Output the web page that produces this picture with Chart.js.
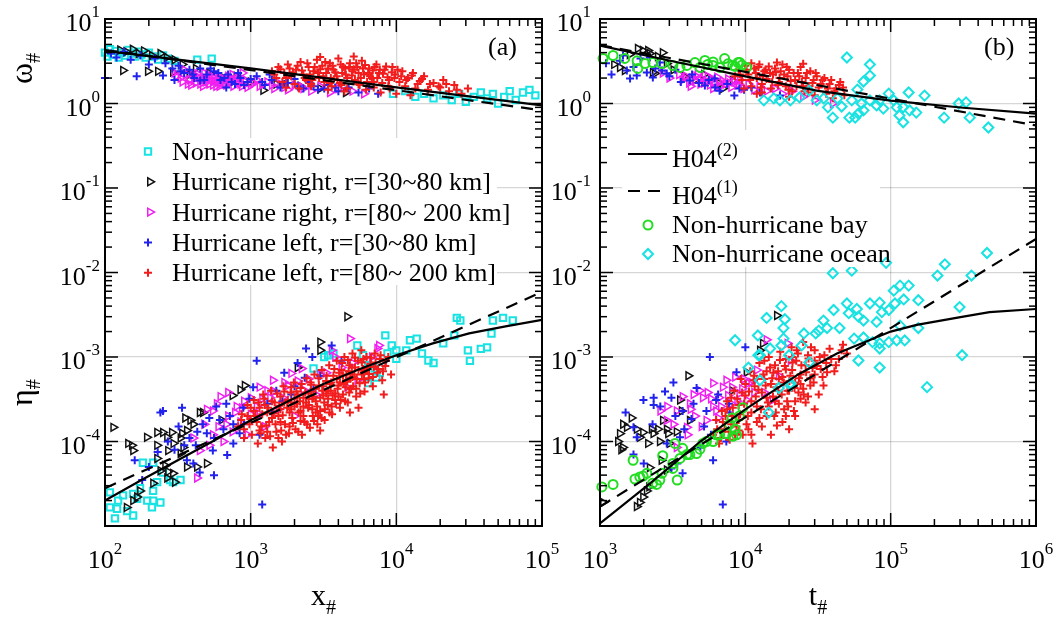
<!DOCTYPE html>
<html><head><meta charset="utf-8">
<script src="https://cdn.jsdelivr.net/npm/chart.js@4.4.0/dist/chart.umd.min.js"></script>
<style>
html,body{margin:0;padding:0;background:#fff;width:1057px;height:621px;overflow:hidden}
canvas{position:absolute;top:0}
#ca{left:0}#cb{left:548px}
</style></head><body>
<canvas id="ca" width="580" height="621"></canvas>
<canvas id="cb" width="509" height="621"></canvas>
<script>
// ---------------- tick labels (exponents of 10) ----------------
const xTickExpA = [2, 3, 4, 5];
const xTickExpB = [3, 4, 5, 6];
const yTickExp = [1, 0, -1, -2, -3, -4];

// ---------------- panel (a): x_# ----------------
const nonHurOmegaA = [[100,4.0],[104,3.6],[108,4.4],[113,3.8],[118,4.2],[124,3.5],[130,4.0],[137,3.7],[145,4.3],[152,3.9],[160,3.6],[168,4.1],[178,3.8],[190,3.5],[200,4.0],[215,3.6],[232,3.3],[250,3.7],[270,3.4],[300,3.2],[430,3.3],[540,3.4],[9500,1.3],[11500,1.4],[13500,1.2],[15500,1.3],[18000,1.15],[21000,1.25],[24000,1.1],[27000,1.3],[30000,1.05],[34000,1.2],[38000,1.35],[42000,1.15],[46000,1.3],[50000,1.0],[55000,1.2],[60000,1.4],[66000,1.1],[74000,1.35],[82000,1.45],[90000,1.25]];
const nonHurEtaA = [[117,1.23e-5],[121,1.6e-5],[108,1.66e-5],[123,2.0e-5],[142,1.5e-5],[156,1.33e-5],[166,2.1e-5],[174,2.8e-5],[195,2.0e-5],[214,2.0e-5],[214,2.6e-5],[182,5.6e-5],[214,5.6e-5],[228,3.3e-5],[250,4.3e-5],[280,3.5e-5],[293,3.3e-5],[330,3.5e-5],[240,1.9e-5],[210,1.66e-5],[156,2.4e-5],[133,2.3e-5],[108,2.5e-5],[2700,7.3e-4],[3200,1.0e-3],[3400,1.05e-3],[3700,1.1e-3],[5400,1.37e-3],[5900,1.05e-3],[6400,8.0e-4],[7100,7.3e-4],[7300,5.7e-4],[7700,6.5e-4],[8400,1.8e-3],[9300,1.37e-3],[8700,1.1e-3],[10000,9.5e-4],[11700,1.2e-3],[12400,1.58e-3],[13800,1.65e-3],[15000,1.1e-3],[16600,9.1e-4],[18000,8.5e-4],[21000,1.45e-3],[26000,2.9e-3],[27500,2.7e-3],[31000,1.2e-3],[32000,9.0e-4],[38000,1.25e-3],[42000,1.3e-3],[46000,2.7e-3],[54000,2.9e-3],[63000,2.7e-3],[45000,1.9e-3],[25000,1.8e-3],[6400,4.9e-4],[10000,1.2e-3]];
const hurR30OmegaA = [[133,2.46],[197,2.4],[231,2.4],[293,2.35],[127,4.3],[140,4.1],[155,4.4],[170,3.9],[185,4.2],[210,3.7],[240,3.9],[265,3.5],[300,3.3],[340,2.9],[380,2.2],[420,2.6],[520,2.3],[650,2.0],[800,2.1],[1000,1.8],[1220,1.43],[1500,1.7],[2200,1.6],[3000,1.5],[4500,1.35]];
const hurR30EtaA = [[114,1.47e-4],[144,9.5e-5],[156,7.8e-5],[153,9e-5],[194,1.12e-4],[228,1.28e-4],[250,1.28e-4],[267,1.12e-4],[288,1.28e-4],[295,9.5e-5],[330,1.1e-4],[338,1.25e-4],[365,1.35e-4],[385,1.78e-4],[404,1.6e-4],[355,1.9e-4],[447,2.2e-4],[470,2.2e-4],[228,6.3e-5],[240,4.5e-5],[259,5.2e-5],[271,4.4e-5],[267,3.7e-5],[293,4.2e-5],[302,3.3e-5],[166,2.2e-5],[156,2.0e-5],[141,1.66e-5],[174,2.6e-5],[214,3.2e-5],[330,7.2e-5],[365,5e-5],[428,5e-5],[500,5.5e-5],[271,7.8e-5],[228,9e-5],[345,8.5e-5],[3000,1.5e-3],[3000,1.2e-3],[2100,7.5e-4],[4600,3.0e-3],[910,4.6e-4],[850,4.1e-4],[750,3.5e-4],[630,1.8e-4]];
const hurR80OmegaA = [[300,2.3],[330,2.0],[350,2.5],[380,1.9],[400,2.2],[420,1.75],[440,2.05],[460,1.85],[480,2.3],[500,1.95],[520,1.7],[540,2.1],[560,1.85],[580,1.6],[600,2.0],[620,1.75],[650,1.9],[680,1.65],[700,2.1],[730,1.8],[760,1.6],[800,1.95],[850,1.7],[900,1.85],[950,1.55],[1050,1.75],[1150,1.6],[1300,1.8],[1450,1.5],[1600,1.7],[1800,1.45],[2000,1.65],[2300,1.5],[2600,1.4],[3000,1.6],[3500,1.35],[4000,1.5],[5000,1.4],[6000,1.3],[470,1.6],[610,1.6],[750,2.2],[390,1.65],[880,2.3],[310,2.1],[340,1.8],[360,2.2],[370,1.7],[410,1.95],[430,2.25],[450,1.7],[470,2.0],[490,1.8],[510,2.2],[530,1.9],[550,1.65],[570,2.0],[590,1.8],[610,2.1],[630,1.9],[660,1.7],[690,1.95],[710,1.75],[740,2.0],[770,1.85],[820,1.8],[870,1.6],[920,1.9],[1000,1.65],[1100,1.9],[1200,1.7],[1400,1.65],[1700,1.55],[2200,1.6]];
const hurR80EtaA = [[404,1.1e-4],[447,7.8e-5],[428,3.7e-5],[500,2.4e-4],[550,2.3e-4],[585,2.8e-4],[1150,4.4e-4],[1000,3.3e-4],[1660,3.3e-4],[2240,7.3e-4],[4800,1.65e-3],[7400,1.26e-3],[6800,1.0e-3],[7600,1.37e-3],[1420,5.3e-4],[5000,8.5e-4],[4600,4.4e-4],[5400,5.3e-4],[1150,2.1e-4],[1360,3.3e-4],[600,1.5e-4],[650,1.0e-4],[700,2.0e-4],[750,1.3e-4],[800,2.6e-4],[850,1.7e-4],[900,3.0e-4],[950,1.2e-4],[1100,2.6e-4],[1250,1.5e-4],[1300,4.0e-4],[1550,2.4e-4],[1800,4.6e-4],[2000,2.0e-4],[2500,5.5e-4],[2800,3.6e-4],[3300,6.5e-4],[3800,1.0e-3],[4200,7.5e-4],[3600,1.2e-3],[700,3.8e-4],[520,9e-5],[480,1.6e-4],[620,3.4e-4],[550,1.2e-4],[680,1.6e-4],[780,2.2e-4],[870,2.5e-4],[1000,2.1e-4],[1200,3.2e-4],[1450,3.9e-4],[1700,5.0e-4],[2100,5.2e-4],[2300,4.1e-4],[3000,6.2e-4],[1900,6.4e-4]];
const hurL30OmegaA = [[100,2.0],[165,2.1],[250,2.15],[450,1.87],[110,3.9],[120,3.5],[135,4.1],[150,3.3],[175,3.7],[200,2.9],[220,3.4],[260,3.0],[290,2.6],[320,2.8],[350,2.3],[380,2.5],[410,2.0],[450,2.6],[500,2.2],[560,2.4],[620,1.9],[700,2.2],[780,1.7],[850,2.0],[950,1.8],[1100,2.1],[1250,1.65],[1400,1.9],[1600,1.55],[1800,1.75],[2100,1.6],[2500,1.8],[2900,1.45],[3400,1.65],[4000,1.4],[4700,1.55],[5500,1.35],[6500,1.5],[7500,1.3],[300,1.9],[680,1.55],[330,2.4],[400,2.2],[480,1.9],[530,2.6],[600,2.3],[660,2.0],[740,1.8],[820,2.3],[900,1.65],[1000,1.95],[1200,1.8],[1350,2.2],[1700,1.7],[2000,1.95],[2300,1.5],[2700,1.6],[3200,1.5],[3800,1.55]];
const hurL30EtaA = [[240,2.2e-4],[338,2.5e-4],[365,6e-5],[404,5.5e-5],[447,4.3e-5],[550,7.8e-5],[690,6.9e-5],[760,9.5e-5],[840,1.25e-4],[500,1.25e-4],[615,1.8e-4],[1200,1.8e-5],[250,2.3e-4],[1100,9e-4],[2400,1.26e-3],[3600,1.37e-3],[2650,1.0e-3],[1700,6.5e-4],[2350,5.7e-4],[890,2.5e-4],[1040,4.4e-4],[160,6e-5],[200,5e-5],[230,7.5e-5],[270,1.0e-4],[300,8e-5],[320,1.5e-4],[380,1.1e-4],[420,9e-5],[470,1.6e-4],[560,1.1e-4],[650,1.4e-4],[720,2.0e-4],[900,1.6e-4],[980,3.2e-4],[1300,2.8e-4],[1500,4.0e-4],[1900,3.6e-4],[2100,8.5e-4],[3000,6.0e-4],[4200,9.0e-4],[180,3.5e-5],[560,4.0e-5],[350,9e-5],[430,1.3e-4],[520,1.9e-4],[580,2.6e-4],[680,2.8e-4],[760,1.6e-4],[1150,1.2e-4],[1400,2.2e-4],[1650,3.0e-4],[2000,4.5e-4],[2700,4.2e-4]];
const hurL80OmegaA = [[1400,2.4],[1500,2.0],[1550,2.7],[1650,1.8],[1700,2.3],[1800,2.9],[1900,2.1],[2000,1.7],[2050,2.5],[2200,3.1],[2300,2.2],[2400,1.9],[2500,2.7],[2600,1.6],[2700,2.4],[2850,3.3],[2950,2.0],[3100,2.8],[3200,1.8],[3300,2.3],[3500,3.0],[3600,1.6],[3700,2.5],[3900,2.1],[4000,3.4],[4100,1.75],[4300,2.7],[4500,2.2],[4600,1.5],[4800,3.0],[5000,2.4],[5200,1.9],[5400,2.7],[5600,1.65],[5800,3.2],[6000,2.2],[6300,1.8],[6500,2.6],[6800,2.0],[7000,1.55],[7300,2.9],[7600,2.3],[8000,1.75],[8300,2.5],[8700,2.05],[9000,1.5],[9400,2.7],[9800,2.2],[10500,1.8],[11000,2.4],[11500,1.6],[12000,2.0],[13000,2.3],[13500,1.5],[14500,1.85],[15500,2.1],[16500,1.45],[18000,1.75],[19500,1.6],[21000,1.9],[23000,1.4],[25000,1.65],[28000,1.3],[31000,1.5],[3400,1.45],[4400,1.4],[2150,1.5],[1750,1.55],[6200,1.45],[7800,1.35],[10000,1.3],[12500,1.25],[5100,3.6],[3000,3.55],[1450,2.2],[1600,2.55],[1750,2.0],[1850,2.6],[1950,2.35],[2100,2.8],[2250,2.45],[2350,2.0],[2450,3.0],[2550,2.2],[2650,1.9],[2750,2.7],[2900,2.3],[3000,2.55],[3150,2.1],[3250,3.1],[3400,2.6],[3550,2.0],[3650,2.8],[3800,2.35],[3950,1.9],[4150,2.9],[4250,2.3],[4450,2.6],[4600,2.0],[4750,2.7],[4950,2.15],[5100,2.55],[5300,3.0],[5500,2.3],[5700,2.0],[5900,2.6],[6100,2.85],[6400,2.3],[6600,2.1],[6900,2.45],[7100,2.7],[7400,2.0],[7700,2.5],[8100,2.25],[8500,2.75],[8900,1.9],[9300,2.35],[9700,2.0],[10200,2.5],[10800,2.1],[11700,1.9],[12800,2.15],[14000,1.7],[15000,1.95],[17000,1.7],[20000,1.55],[22000,1.7],[26000,1.45],[3500,1.75],[4200,1.65],[5500,1.7],[7000,1.8],[8800,1.6],[2600,1.7]];
const hurL80EtaA = [[820,1.5e-4],[870,2.1e-4],[900,1.1e-4],[950,2.7e-4],[980,1.6e-4],[1020,1.2e-4],[1050,3.1e-4],[1080,2.0e-4],[1120,9.5e-5],[1150,2.5e-4],[1180,1.5e-4],[1220,3.6e-4],[1260,1.1e-4],[1300,2.2e-4],[1340,1.7e-4],[1380,4.0e-4],[1420,8.5e-5],[1460,2.9e-4],[1500,1.3e-4],[1550,2.0e-4],[1600,3.4e-4],[1640,1.0e-4],[1680,4.5e-4],[1720,1.6e-4],[1780,2.5e-4],[1830,1.25e-4],[1880,3.8e-4],[1930,1.9e-4],[1980,5.0e-4],[2030,1.4e-4],[2080,2.8e-4],[2130,2.2e-4],[2200,4.3e-4],[2250,1.2e-4],[2300,3.3e-4],[2350,1.7e-4],[2420,5.6e-4],[2480,2.5e-4],[2550,1.45e-4],[2600,3.9e-4],[2670,2.0e-4],[2740,6.2e-4],[2800,3.0e-4],[2870,1.6e-4],[2940,4.6e-4],[3000,2.3e-4],[3080,7.0e-4],[3150,3.5e-4],[3220,1.8e-4],[3300,5.2e-4],[3380,2.7e-4],[3460,8.0e-4],[3540,4.0e-4],[3620,2.1e-4],[3700,6.0e-4],[3800,3.1e-4],[3900,9.0e-4],[4000,4.6e-4],[4100,2.5e-4],[4200,7.0e-4],[4300,3.6e-4],[4400,1.0e-3],[4520,5.3e-4],[4640,2.9e-4],[4760,8.0e-4],[4880,4.2e-4],[5000,1.1e-3],[5150,6.2e-4],[5300,3.4e-4],[5450,9.0e-4],[5600,4.9e-4],[5750,1.2e-3],[5900,7.2e-4],[6050,3.9e-4],[6250,1.0e-3],[6450,5.6e-4],[6650,8.3e-4],[6900,4.5e-4],[7100,1.1e-3],[7400,6.5e-4],[7700,9.5e-4],[8000,5.3e-4],[8400,7.8e-4],[8800,1.0e-3],[9200,6.2e-4],[1250,2.7e-4],[1400,1.9e-4],[1700,2.9e-4],[1900,2.4e-4],[2100,3.6e-4],[2400,2.9e-4],[2700,3.4e-4],[3100,4.0e-4],[3500,4.8e-4],[3900,5.5e-4],[4300,6.1e-4],[4700,6.8e-4],[5200,7.5e-4],[5800,8.6e-4],[1550,1.1e-4],[1850,1.5e-4],[2200,1.75e-4],[2650,2.4e-4],[3200,2.9e-4],[3800,3.7e-4],[4500,4.4e-4],[1000,1.85e-4],[1150,1.35e-4],[2000,3.2e-4],[2600,4.7e-4],[3300,3.7e-4],[4100,5.0e-4],[5000,5.8e-4],[6000,6.6e-4],[7000,7.6e-4],[2300,2.6e-4],[2900,2.0e-4],[3600,2.6e-4],[1600,2.4e-4],[1300,1.3e-4],[2500,3.7e-4],[3000,1.35e-4],[5500,2.5e-4],[4800,2.2e-4],[8200,3.6e-4],[1050,2.3e-4],[1100,1.7e-4],[1130,2.9e-4],[1170,1.25e-4],[1200,2.1e-4],[1240,3.2e-4],[1280,1.55e-4],[1320,2.5e-4],[1360,1.15e-4],[1400,3.0e-4],[1440,2.15e-4],[1480,1.6e-4],[1520,3.7e-4],[1570,2.65e-4],[1620,1.35e-4],[1660,2.05e-4],[1700,3.9e-4],[1750,1.2e-4],[1800,3.1e-4],[1850,2.2e-4],[1900,4.4e-4],[1950,1.65e-4],[2000,2.6e-4],[2060,3.9e-4],[2120,1.3e-4],[2180,3.0e-4],[2240,4.8e-4],[2300,2.0e-4],[2370,3.8e-4],[2440,1.6e-4],[2510,2.7e-4],[2580,5.0e-4],[2650,3.2e-4],[2720,1.75e-4],[2790,4.2e-4],[2860,2.6e-4],[2930,5.6e-4],[3000,3.3e-4],[3070,1.9e-4],[3150,4.5e-4],[3230,2.4e-4],[3320,6.0e-4],[3400,3.2e-4],[3480,2.2e-4],[3570,5.0e-4],[3660,3.5e-4],[3750,7.2e-4],[3850,2.8e-4],[3950,4.2e-4],[4050,6.5e-4],[4150,3.1e-4],[4250,8.5e-4],[4350,4.8e-4],[4450,3.0e-4],[4550,6.2e-4],[4650,9.2e-4],[4750,3.8e-4],[4850,5.6e-4],[4950,7.5e-4],[5050,4.5e-4],[5200,9.8e-4],[5350,5.5e-4],[5500,7.0e-4],[5650,3.7e-4],[5800,6.2e-4],[5950,9.5e-4],[6100,5.0e-4],[6300,7.5e-4],[6500,6.3e-4],[6700,9.8e-4],[6900,5.8e-4],[7200,8.6e-4],[7500,7.2e-4],[7800,1.05e-3],[8100,6.8e-4],[8500,9.0e-4],[900,1.4e-4],[950,2.0e-4],[1000,2.5e-4],[860,1.8e-4],[1600,1.7e-4],[2200,2.3e-4],[2800,2.2e-4],[3400,4.0e-4],[4000,3.4e-4],[4600,5.1e-4],[5300,4.2e-4],[6000,5.5e-4],[2500,3.2e-4],[1900,2.9e-4]];
const h04v2OmegaA = [[100,4.2],[1000,2.6],[10000,1.55],[100000,0.95]];
const h04v1OmegaA = [[100,4.3],[100000,0.83]];
const h04v2EtaA = [[100,2.0e-5],[178,3.5e-5],[316,6.0e-5],[562,1.03e-4],[1000,1.78e-4],[1780,2.95e-4],[3160,4.8e-4],[5620,7.2e-4],[10000,1.05e-3],[17800,1.45e-3],[31600,1.9e-3],[56200,2.3e-3],[100000,2.75e-3]];
const h04v1EtaA = [[100,2.8e-5],[100000,5.9e-3]];

// ---------------- panel (b): t_# ----------------
const bayOmegaB = [[1050,3.41],[1230,3.7],[1480,3.41],[1800,3.2],[2040,2.97],[2310,3.05],[2670,2.97],[3170,2.82],[3550,2.67],[3960,2.82],[4500,3.05],[4870,2.67],[5980,2.82],[6670,2.67],[8190,2.82],[9160,3.05],[10200,2.67],[1820,2.6],[5270,3.23],[7200,3.4],[8900,3.05],[6000,3.1],[7600,2.95],[8500,2.75],[9500,2.85],[5500,2.9]];
const bayEtaB = [[1030,2.9e-5],[1230,3.1e-5],[1690,6e-5],[1740,3.6e-5],[1980,3.9e-5],[2100,4.2e-5],[2300,3.2e-5],[2450,3.1e-5],[2670,4.2e-5],[3170,4.8e-5],[3170,5.5e-5],[3280,9.5e-5],[3550,6.3e-5],[3960,7e-5],[4150,7e-5],[4620,7.2e-5],[4870,8.1e-5],[5400,1.0e-4],[6000,1.0e-4],[6650,1.2e-4],[7400,1.24e-4],[8200,1.15e-4],[8500,1.4e-4],[3400,3.5e-5],[2580,3.5e-5],[1880,3.8e-5],[8100,1.9e-4],[9100,2.0e-4],[8700,1.2e-4],[6300,1.2e-4],[3700,8.3e-5],[2700,6.8e-5],[5100,9.5e-5],[7800,1.6e-4],[9600,2.5e-4]];
const oceanOmegaB = [[50000,3.5],[72000,2.9],[72000,2.14],[65000,1.82],[59000,1.46],[52000,0.68],[40000,0.68],[57000,0.68],[60000,0.76],[65000,0.83],[37000,0.9],[46000,0.92],[43000,1.15],[54000,1.09],[63000,1.0],[72000,1.09],[80000,0.95],[89000,0.87],[97000,1.31],[105000,1.09],[110000,0.9],[115000,0.72],[122000,0.6],[133000,1.35],[135000,0.83],[150000,0.78],[171000,1.24],[233000,0.68],[294000,1.0],[330000,1.03],[350000,0.68],[470000,0.52],[27500,1.42],[23600,1.18],[20400,1.09],[17300,1.09],[15700,1.15],[13400,1.09],[31000,1.09],[34600,1.15],[84000,1.09],[122000,0.9]];
const oceanEtaB = [[40000,9.8e-3],[54000,1.05e-2],[17700,4.0e-3],[14000,2.9e-3],[18700,2.8e-3],[40500,3.6e-3],[50000,4.3e-3],[51500,3.3e-3],[58500,3.7e-3],[60000,3.0e-3],[72000,4.3e-3],[84000,4.4e-3],[87000,3.4e-3],[97000,3.6e-3],[107000,4.3e-3],[123000,4.8e-3],[105000,6.1e-3],[116000,7e-3],[133000,7e-3],[155000,4.7e-3],[236000,1.25e-2],[210000,9.2e-3],[460000,1.7e-2],[360000,9.2e-3],[298000,3.9e-3],[80000,2.6e-3],[65000,2.7e-3],[34500,2.7e-3],[36500,2.2e-3],[32000,2.05e-3],[30500,1.9e-3],[25300,1.9e-3],[24400,1.37e-3],[44500,2.2e-3],[56000,1.65e-3],[65000,1.7e-3],[75000,1.5e-3],[84000,1.45e-3],[97000,1.5e-3],[110000,1.57e-3],[125000,1.57e-3],[116000,2.35e-3],[155000,2.2e-3],[84000,1.26e-3],[60000,9.1e-4],[84000,7.5e-4],[310000,1.05e-3],[178000,4.4e-4],[14500,2.2e-4],[17000,4.3e-4],[20500,4.9e-4],[27500,8.6e-4],[18300,2.2e-3],[18300,1.65e-3],[17700,1.37e-3],[14800,1.26e-3],[12300,1.05e-3],[20000,1.05e-3],[93000,1.3e-2],[8500,1.58e-3],[12200,1.8e-3],[12600,1.05e-3],[10500,7.5e-4],[12600,5.3e-4],[20500,4.6e-4]];
const hurR30OmegaB = [[1370,2.67],[1480,2.46],[1820,4.47],[1970,4.24],[2140,4.24],[2200,3.9],[2310,2.33],[2390,2.27],[2880,2.97],[6670,1.72],[7000,1.5],[8190,1.87],[1600,3.8],[2500,3.6],[3200,2.5],[3800,2.1],[4500,1.9],[5200,2.2],[1250,2.9],[2700,4.0]];
const hurR30EtaB = [[1330,1.0e-4],[1440,8.5e-5],[1370,1.24e-4],[1530,1.47e-4],[1650,1.9e-4],[1440,1.6e-4],[1880,1.12e-4],[1980,1.28e-4],[2140,9.5e-5],[2270,1.4e-4],[2330,1.24e-4],[2510,1.4e-4],[2710,1.78e-4],[2940,1.24e-4],[3020,9.5e-5],[3550,3.1e-4],[4050,6e-4],[4150,1.78e-4],[3650,2.3e-4],[3370,1.3e-4],[2200,4.9e-5],[2650,6e-5],[13200,1.45e-3],[12600,1.2e-3],[10200,6.6e-4],[8100,4e-4],[16500,3.1e-3],[1400,8e-5],[1790,1.7e-5],[1880,1.9e-5],[1980,2.2e-5],[2100,2.6e-5],[2180,2.9e-5],[1050,1.9e-5],[2880,4.6e-5],[2580,1.0e-4],[2880,1.4e-4],[1790,1.4e-4]];
const hurR80OmegaB = [[3500,2.2],[3700,1.9],[3900,2.1],[4100,1.75],[4300,2.0],[4500,1.85],[4700,2.25],[4900,1.7],[5100,1.95],[5300,1.8],[5500,2.1],[5700,1.65],[5900,1.9],[6100,1.75],[6400,2.05],[6700,1.6],[7000,1.85],[7300,1.7],[7600,1.95],[8000,1.55],[8400,1.8],[8800,1.65],[9200,1.9],[9700,1.5],[10500,1.7],[11500,1.45],[12500,1.6],[14000,1.4],[16000,1.5],[18000,1.3],[21000,1.4],[25000,1.2],[30000,1.1],[40000,1.0],[3000,2.0],[2700,2.3],[6000,1.5],[4200,1.6],[3800,2.0],[4600,2.1],[5200,1.75],[5800,2.0],[6600,1.8],[7800,1.75],[9000,1.7]];
const hurR80EtaB = [[7400,5.3e-4],[8100,4.4e-4],[4870,4e-4],[5100,3.3e-4],[6000,4.9e-4],[6300,2.3e-4],[6600,3.3e-4],[3370,2.3e-4],[4150,2.8e-4],[9100,3.7e-4],[10200,3.1e-4],[10500,4.9e-4],[15400,3.1e-4],[20500,9.1e-4],[14000,1.6e-3],[19500,1.45e-3],[3370,8.5e-5],[2880,1.78e-4],[3960,1.47e-4],[5400,1.78e-4],[2600,2.3e-4],[4000,1.2e-4],[4500,2.0e-4],[5000,1.5e-4],[5500,3.8e-4],[6000,2.6e-4],[6500,1.9e-4],[7000,4.4e-4],[8000,2.8e-4],[8500,5.8e-4],[9500,4.2e-4],[11000,5.0e-4],[12000,7.0e-4],[13500,3.8e-4],[17000,6.0e-4],[3200,1.6e-4],[2900,2.6e-4],[3700,3.4e-4],[4400,3.6e-4],[5800,3.2e-4],[6800,2.6e-4],[7600,3.5e-4],[8800,3.0e-4],[9800,5.5e-4],[11500,3.8e-4],[4200,2.4e-4]];
const hurL30OmegaB = [[1370,3.2],[1530,2.46],[1610,1.98],[1790,2.14],[2100,2.33],[2310,2.03],[2670,2.46],[2880,2.27],[2580,3.05],[2200,3.5],[1440,3.7],[4150,1.87],[5270,1.63],[6650,1.42],[9100,1.5],[6150,1.98],[8400,1.24],[12600,1.35],[17300,1.24],[1100,3.0],[1200,2.2],[1700,2.7],[1900,3.4],[2400,2.6],[3000,2.1],[3300,2.5],[3600,1.8],[4300,2.2],[4800,1.75],[5600,1.9],[6200,1.55],[7500,1.7],[9800,1.45],[11000,1.55]];
const hurL30EtaB = [[10000,1.3e-3],[5700,1.0e-3],[8700,6.6e-4],[1990,3.1e-4],[2340,3.3e-4],[2340,2.7e-4],[3100,3.3e-4],[3700,2.3e-4],[4260,1.85e-4],[5400,2.3e-4],[6300,3.1e-4],[7800,2.2e-4],[3550,1.12e-4],[2880,9.5e-5],[3400,5.5e-5],[3700,4.2e-5],[3100,4.8e-5],[4900,8.5e-5],[6000,6e-5],[7400,1.0e-4],[1700,1.47e-4],[1790,1.12e-4],[4620,4.3e-4],[7000,1.8e-5],[1500,2.2e-4],[1700,7e-5],[2000,5.5e-5],[2300,1.6e-4],[2600,2.6e-4],[3300,2.0e-4],[3800,1.4e-4],[4400,2.8e-4],[5200,1.5e-4],[5800,1.2e-4],[6500,3.6e-4],[7700,2.8e-4],[2800,3.9e-4],[3200,5.0e-4]];
const hurL80OmegaB = [[9000,2.5],[9500,1.9],[10000,2.8],[10500,2.2],[11000,1.6],[11500,2.6],[12000,2.0],[12500,2.9],[13000,1.7],[13500,2.4],[14000,1.95],[14500,2.75],[15000,1.5],[15500,2.2],[16000,2.6],[17000,1.8],[17500,2.4],[18000,2.9],[19000,1.6],[19500,2.1],[20000,2.5],[21000,1.4],[22000,1.9],[23000,2.3],[24000,2.7],[25000,1.6],[26000,2.0],[27000,1.35],[28000,2.4],[29000,1.75],[30000,1.25],[31000,2.1],[32000,1.55],[34000,1.9],[36000,1.3],[38000,1.7],[40000,1.15],[42000,1.5],[45000,1.8],[48000,1.25],[11000,3.0],[16500,3.05],[25000,2.95],[13000,1.35],[20000,1.2],[8500,2.1],[9800,1.5],[12000,1.3],[47000,1.55],[9200,2.2],[10200,2.5],[10800,1.9],[11800,2.3],[12300,2.7],[13200,2.1],[13800,2.5],[14800,2.3],[15300,1.8],[16200,2.35],[17200,2.0],[18500,2.2],[19300,2.7],[20500,1.85],[21500,2.3],[22500,1.6],[23500,2.1],[24500,1.8],[26500,2.3],[27500,1.6],[29500,1.9],[30500,2.3],[33000,1.7],[35000,2.0],[37000,1.5],[39000,1.9],[41000,1.4],[44000,1.65],[12800,1.55],[16800,1.65],[19800,1.45],[25500,1.4]];
const hurL80EtaB = [[6000,1.2e-4],[6300,1.8e-4],[6600,9.5e-5],[6900,2.3e-4],[7200,1.4e-4],[7500,3.0e-4],[7800,1.05e-4],[8100,2.0e-4],[8400,4.0e-4],[8700,1.5e-4],[9000,2.7e-4],[9300,5.5e-4],[9600,1.2e-4],[10000,3.5e-4],[10400,2.0e-4],[10800,6.8e-4],[11200,9.5e-5],[11600,4.5e-4],[12000,2.6e-4],[12500,8.5e-4],[13000,1.5e-4],[13500,5.5e-4],[14000,3.3e-4],[14500,1.0e-3],[15000,1.2e-4],[15600,6.5e-4],[16200,2.2e-4],[16800,4.0e-4],[17400,1.15e-3],[18000,1.7e-4],[18700,7.8e-4],[19400,3.0e-4],[20100,5.2e-4],[20800,1.3e-3],[21600,2.3e-4],[22400,9.0e-4],[23200,3.8e-4],[24000,6.2e-4],[25000,1.5e-3],[26000,2.9e-4],[27000,1.05e-3],[28000,4.6e-4],[29000,7.4e-4],[30000,1.2e-3],[32000,3.6e-4],[34000,5.8e-4],[36000,8.5e-4],[38000,1.25e-3],[41000,6.8e-4],[44000,9.5e-4],[47000,1.4e-3],[50000,1.1e-3],[7000,1.7e-4],[8000,3.3e-4],[9000,1.8e-4],[10000,4.8e-4],[11000,3.0e-4],[12000,5.5e-4],[13000,3.8e-4],[14000,6.8e-4],[15000,4.8e-4],[16000,8.0e-4],[17000,2.8e-4],[18000,5.8e-4],[19000,9.5e-4],[20000,4.0e-4],[21000,7.0e-4],[22000,5.0e-4],[23000,1.1e-3],[24000,3.2e-4],[26000,8.0e-4],[28000,5.6e-4],[30000,9.0e-4],[33000,7.2e-4],[35000,1.05e-3],[8500,1.2e-4],[10500,1.4e-4],[12500,1.9e-4],[14500,2.6e-4],[16500,1.55e-4],[19000,2.0e-4],[22000,3.0e-4],[25000,4.2e-4],[7500,2.4e-4],[9500,3.8e-4],[11500,6.0e-4],[13500,9.0e-4],[15500,3.4e-4],[20000,1.4e-4],[30000,2.4e-4],[6400,1.4e-4],[6800,1.1e-4],[7300,2.0e-4],[7700,1.3e-4],[8200,2.5e-4],[8800,3.2e-4],[9200,2.1e-4],[9800,2.8e-4],[10200,1.6e-4],[10600,3.9e-4],[11000,2.2e-4],[11400,5.3e-4],[11800,3.4e-4],[12300,4.1e-4],[12800,2.4e-4],[13300,6.2e-4],[13800,4.6e-4],[14300,2.9e-4],[14800,7.5e-4],[15300,5.6e-4],[15800,2.0e-4],[16300,4.4e-4],[16800,6.8e-4],[17300,9.2e-4],[17800,3.6e-4],[18400,5.0e-4],[19000,7.1e-4],[19700,2.6e-4],[20400,6.0e-4],[21100,8.6e-4],[21800,4.3e-4],[22600,1.2e-3],[23400,5.6e-4],[24300,8.0e-4],[25200,3.6e-4],[26200,6.6e-4],[27200,9.6e-4],[28300,1.3e-3],[29500,5.0e-4],[31000,7.8e-4],[32500,1.0e-3],[34500,4.6e-4],[36500,6.6e-4],[39000,9.5e-4],[42000,8.0e-4],[46000,1.2e-3],[9000,1.35e-4],[12000,1.7e-4],[14000,2.0e-4],[18500,2.4e-4],[22000,2.0e-4],[27000,3.4e-4],[8000,1.6e-4],[11000,1.2e-4],[16000,3.0e-4],[19500,4.0e-4],[24000,4.8e-4],[30000,6.2e-4],[21000,1.0e-3],[17000,5.5e-4]];
const h04v2OmegaB = [[1000,4.85],[3160,3.16],[10000,2.09],[31600,1.41],[100000,1.08],[316000,0.89],[1000000,0.76]];
const h04v1OmegaB = [[1000,4.9],[1000000,0.55]];
const h04v2EtaB = [[1000,1.07e-5],[2190,3.16e-5],[4900,1.0e-4],[10000,2.4e-4],[23400,6.3e-4],[42700,1.1e-3],[100000,2.0e-3],[151000,2.4e-3],[316000,3.0e-3],[479000,3.4e-3],[1000000,3.7e-3]];
const h04v1EtaB = [[1000,1.7e-5],[1000000,2.5e-2]];

// ---------------- styles ----------------
const SERIF = '"Liberation Serif","Times New Roman",Times,serif';
const CYAN = '#18e2e2', BLACK = '#111111', MAG = '#f020f0', BLUE = '#2222ee', RED = '#f21c1c', GREEN = '#22dd22';
const ST = {
  sq:   {pointStyle:'rect', radius:4.5, rotation:0, borderWidth:2, color:CYAN},
  triK: {pointStyle:'triangle', radius:4.5, rotation:90, borderWidth:1.5, color:BLACK},
  triM: {pointStyle:'triangle', radius:4.5, rotation:90, borderWidth:1.5, color:MAG},
  crB:  {pointStyle:'cross', radius:4, rotation:0, borderWidth:2, color:BLUE},
  crR:  {pointStyle:'cross', radius:4, rotation:0, borderWidth:2, color:RED},
  ciG:  {pointStyle:'circle', radius:4.5, rotation:0, borderWidth:2, color:GREEN},
  diC:  {pointStyle:'rectRot', radius:5, rotation:0, borderWidth:2, color:CYAN}
};
const toXY = a => a.map(p => ({x:p[0], y:p[1]}));
function scat(label, pts, st, order) {
  return {label, data: toXY(pts), showLine:false, order, clip:false,
    pointStyle: st.pointStyle, pointRotation: st.rotation, pointRadius: st.radius,
    pointBorderWidth: st.borderWidth, pointBorderColor: st.color, pointBackgroundColor:'rgba(0,0,0,0)'};
}
function curve(label, pts, dash) {
  return {label, data: toXY(pts), showLine:true, order:0, borderColor:'#000', borderWidth:2.2,
    borderDash: dash, pointRadius:0, fill:false, tension:0};
}

// ---------------- drawing helpers ----------------
function font(sz){ return sz + 'px ' + SERIF; }
function tw(ctx, s, sz){ ctx.font = font(sz); return ctx.measureText(s).width; }
function txt(ctx, s, x, y, sz, align){ ctx.font = font(sz); ctx.textAlign = align || 'left'; ctx.textBaseline = 'alphabetic'; ctx.fillStyle = '#000'; ctx.fillText(s, x, y); }
function rich(ctx, parts, x, y){
  let cx = x;
  parts.forEach(p => { txt(ctx, p[0], cx, y + p[2], p[1]); cx += tw(ctx, p[0], p[1]); });
}
function richW(ctx, parts){ return parts.reduce((s,p)=>s+tw(ctx,p[0],p[1]),0); }
function powLabel(ctx, e, x, yb, ye, align){
  const wb = tw(ctx,'10',26), we = tw(ctx,String(e),17);
  const x0 = align === 'right' ? x - wb - we : x - (wb + we)/2;
  txt(ctx,'10',x0,yb,26); txt(ctx,String(e),x0+wb,ye,17);
}
function seg(ctx,x1,y1,x2,y2){ ctx.beginPath(); ctx.moveTo(x1,y1); ctx.lineTo(x2,y2); ctx.stroke(); }
function logTicks(scale){
  const out = [];
  const lo = Math.round(Math.log10(scale.min)), hi = Math.round(Math.log10(scale.max));
  for (let n = lo; n <= hi; n++) for (let k = 1; k <= 9; k++) {
    const v = k * Math.pow(10, n);
    if (v >= scale.min*0.999 && v <= scale.max*1.001) out.push([v, k === 1]);
  }
  return out;
}
function marker(ctx, st, x, y){
  ctx.save(); ctx.strokeStyle = st.color; ctx.fillStyle = 'rgba(0,0,0,0)'; ctx.lineWidth = st.borderWidth; ctx.setLineDash([]);
  Chart.helpers.drawPoint(ctx, {pointStyle:st.pointStyle, radius:st.radius, rotation:st.rotation, borderWidth:st.borderWidth}, x, y);
  ctx.restore();
}
function decoPlugin(opt){
  return { id:'deco',
    afterDatasetsDraw(chart){
      const ctx = chart.ctx, a = chart.chartArea, xs = chart.scales.x, ys = chart.scales.y;
      ctx.save();
      const b = opt.box; ctx.fillStyle = '#fff'; ctx.fillRect(b[0], b[1], b[2]-b[0], b[3]-b[1]);
      opt.legend(ctx);
      ctx.strokeStyle = '#000'; ctx.lineWidth = 1.5; ctx.setLineDash([]);
      logTicks(xs).forEach(([v,maj]) => { const p = xs.getPixelForValue(v), L = maj ? 13 : 7;
        seg(ctx,p,a.bottom,p,a.bottom-L); seg(ctx,p,a.top,p,a.top+L); });
      logTicks(ys).forEach(([v,maj]) => { const p = ys.getPixelForValue(v), L = maj ? 13 : 7;
        seg(ctx,a.left,p,a.left+L,p); seg(ctx,a.right,p,a.right-L,p); });
      ctx.lineWidth = 2; ctx.strokeRect(a.left, a.top, a.right-a.left, a.bottom-a.top);
      opt.xExp.forEach(e => powLabel(ctx, e, xs.getPixelForValue(Math.pow(10,e)), 568, 554, 'center'));
      yTickExp.forEach(e => { const p = ys.getPixelForValue(Math.pow(10,e)); powLabel(ctx, e, opt.yRight, p+12, p-2, 'right'); });
      opt.titles(ctx, a);
      ctx.restore();
    }
  };
}
function rotRich(ctx, parts, x, y){ ctx.save(); ctx.translate(x,y); ctx.rotate(-Math.PI/2); rich(ctx, parts, 0, 0); ctx.restore(); }
function scalesFor(xmin, xmax){
  const dec = s => { const t=[]; for (let n=Math.round(Math.log10(s.min)); n<=Math.round(Math.log10(s.max)); n++) t.push({value:Math.pow(10,n)}); s.ticks = t; };
  const g = {color:'rgba(0,0,0,0.16)', lineWidth:1.3, drawTicks:false};
  return {
    x:{type:'logarithmic', min:xmin, max:xmax, ticks:{display:false}, grid:g, border:{display:false}, afterBuildTicks:dec},
    y:{type:'logarithmic', min:1e-5, max:10, ticks:{display:false}, grid:g, border:{display:false}, afterBuildTicks:dec}
  };
}
Chart.defaults.font.family = SERIF;

// ---------------- chart (a) ----------------
const legA = ['Non-hurricane','Hurricane right, r=[30~80 km]','Hurricane right, r=[80~ 200 km]','Hurricane left, r=[30~80 km]','Hurricane left, r=[80~ 200 km]'];
new Chart(document.getElementById('ca'), {
  type:'scatter',
  data:{datasets:[
    curve('H04(2) ω', h04v2OmegaA, []), curve('H04(1) ω', h04v1OmegaA, [12,8]),
    curve('H04(2) η', h04v2EtaA, []), curve('H04(1) η', h04v1EtaA, [12,8]),
    scat(legA[4], hurL80OmegaA.concat(hurL80EtaA), ST.crR, 1),
    scat(legA[3], hurL30OmegaA.concat(hurL30EtaA), ST.crB, 2),
    scat(legA[2], hurR80OmegaA.concat(hurR80EtaA), ST.triM, 3),
    scat(legA[1], hurR30OmegaA.concat(hurR30EtaA), ST.triK, 4),
    scat(legA[0], nonHurOmegaA.concat(nonHurEtaA), ST.sq, 5)
  ]},
  options:{responsive:false, animation:false, events:[],
    layout:{padding:{left:105, right:38, top:19, bottom:95}},
    scales: scalesFor(100, 1e5),
    plugins:{legend:{display:false}, tooltip:{enabled:false}}},
  plugins:[decoPlugin({
    box:[118,138,497,285], xExp:xTickExpA, yRight:100,
    legend(ctx){
      const sts = [ST.sq, ST.triK, ST.triM, ST.crB, ST.crR];
      legA.forEach((s,i) => { const yb = 160 + i*30.3; marker(ctx, sts[i], i===1||i===2 ? 150 : 148, yb-8.5); txt(ctx, s, 172, yb, 26); });
    },
    titles(ctx, a){
      rotRich(ctx, [['ω',32,0],['#',20,8]], 32, 84);
      rotRich(ctx, [['η',32,0],['#',20,8]], 32, 406);
      const p = [['x',30,0],['#',20,9]]; rich(ctx, p, (a.left+a.right)/2 - richW(ctx,p)/2, 605);
      txt(ctx, '(a)', 488, 55, 26);
    }
  })]
});

// ---------------- chart (b) ----------------
const legB = ['H04','H04','Non-hurricane bay','Non-hurricane ocean'];
new Chart(document.getElementById('cb'), {
  type:'scatter',
  data:{datasets:[
    curve('H04(2) ω', h04v2OmegaB, []), curve('H04(1) ω', h04v1OmegaB, [12,8]),
    curve('H04(2) η', h04v2EtaB, []), curve('H04(1) η', h04v1EtaB, [12,8]),
    scat('Non-hurricane ocean', oceanOmegaB.concat(oceanEtaB), ST.diC, 1),
    scat('Non-hurricane bay', bayOmegaB.concat(bayEtaB), ST.ciG, 2),
    scat('Hurricane left 80-200', hurL80OmegaB.concat(hurL80EtaB), ST.crR, 3),
    scat('Hurricane left 30-80', hurL30OmegaB.concat(hurL30EtaB), ST.crB, 4),
    scat('Hurricane right 80-200', hurR80OmegaB.concat(hurR80EtaB), ST.triM, 5),
    scat('Hurricane right 30-80', hurR30OmegaB.concat(hurR30EtaB), ST.triK, 6)
  ]},
  options:{responsive:false, animation:false, events:[],
    layout:{padding:{left:52, right:21, top:19, bottom:95}},
    scales: scalesFor(1e3, 1e6),
    plugins:{legend:{display:false}, tooltip:{enabled:false}}},
  plugins:[decoPlugin({
    box:[74,130,332,267], xExp:xTickExpB, yRight:43,
    legend(ctx){
      ctx.strokeStyle = '#000'; ctx.lineWidth = 2.2;
      ctx.setLineDash([]); seg(ctx, 80, 154, 119, 154);
      ctx.setLineDash([12,8]); seg(ctx, 80, 191, 112, 191); ctx.setLineDash([]);
      rich(ctx, [[legB[0],26,0],['(2)',18,-11]], 124, 167);
      rich(ctx, [[legB[1],26,0],['(1)',18,-11]], 124, 204);
      marker(ctx, ST.ciG, 100, 225); txt(ctx, legB[2], 124, 233, 26);
      marker(ctx, ST.diC, 100, 254); txt(ctx, legB[3], 124, 262, 26);
    },
    titles(ctx, a){
      const p = [['t',30,0],['#',20,9]]; rich(ctx, p, (a.left+a.right)/2 - richW(ctx,p)/2, 605);
      txt(ctx, '(b)', 436, 55, 26);
    }
  })]
});
</script></body></html>
